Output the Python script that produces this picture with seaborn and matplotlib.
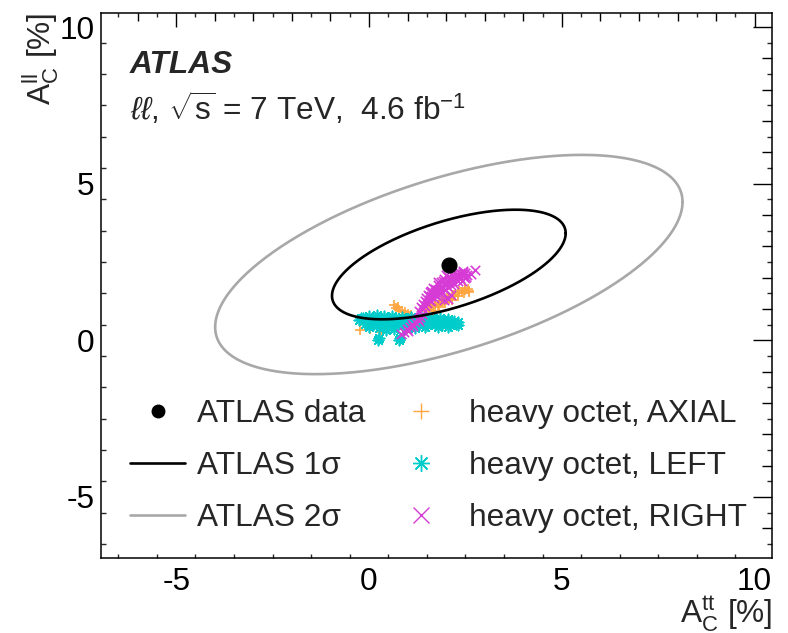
import numpy as np
import pandas as pd
import matplotlib
matplotlib.use("Agg")
import matplotlib.pyplot as plt
from matplotlib.lines import Line2D
from matplotlib.ticker import MultipleLocator
import seaborn as sns

# ---------------- data ----------------
# ATLAS measurement (central values, uncertainties in %, correlation)
data_x = [2.07]
data_y = [2.42]
sigma_x = 3.03
sigma_y = 1.75
rho = 0.57

# heavy octet, AXIAL
axial_x = [1.45, 1.55, 1.62, 1.70, 1.78, 1.85, 1.92, 2.00, 2.08, 2.16, 2.24, 2.32, 2.40, 2.48, 2.56,
           1.58, 1.72, 1.88, 2.02, 2.18, 2.34, 2.50, 2.60,
           1.65, 1.82, 1.98, 2.14, 2.30, 2.46, 2.58,
           0.66, 0.70, 0.74, 0.78, 0.86, 0.94, 1.02, 1.10,
           -0.24, 0.02, 0.32, 0.71, 0.05, 0.45, 1.30]
axial_y = [0.95, 0.98, 1.05, 1.08, 1.12, 1.18, 1.24, 1.30, 1.36, 1.40, 1.45, 1.50, 1.55, 1.60, 1.65,
           1.08, 1.17, 1.26, 1.36, 1.46, 1.56, 1.66, 1.58,
           0.95, 1.05, 1.20, 1.30, 1.40, 1.50, 1.55,
           1.12, 1.02, 1.05, 0.97, 0.93, 0.89, 0.85, 0.82,
           0.32, 0.37, 0.27, 0.42, 0.55, 0.55, 0.75]

# heavy octet, LEFT
left_x = [-0.20, 0.00, 0.20, 0.40, 0.60, 0.85, 1.10, 1.35, 1.60, 1.85, 2.05,
          -0.15, 0.10, 0.30, 0.50, 0.70, 0.95, 1.20, 1.45, 1.70, 1.95, 2.20,
          -0.25, -0.05, 0.15, 0.35, 0.55, 0.75, 0.95, 1.15, 1.35, 1.55, 1.75, 1.95, 2.15, 2.30,
          -0.05, 0.20, 0.40, 0.60, 0.80, 1.00, 1.25, 1.50, 1.75, 2.00, 2.25,
          -0.10, 0.10, 0.30, 0.50, 0.70, 0.90, 1.10, 1.30, 1.50, 1.70, 1.90, 2.10, 2.30,
          0.00, 0.25, 0.45, 0.65, 0.95, 1.20, 1.45, 1.80, 2.05,
          0.23, 0.26, 0.79, 0.80]
left_y = [0.72, 0.78, 0.80, 0.79, 0.77, 0.76, 0.74, 0.73, 0.72, 0.70, 0.68,
          0.70, 0.72, 0.71, 0.70, 0.69, 0.68, 0.68, 0.67, 0.66, 0.64, 0.63,
          0.65, 0.66, 0.64, 0.63, 0.62, 0.63, 0.62, 0.61, 0.62, 0.60, 0.61, 0.60, 0.58, 0.57,
          0.58, 0.57, 0.56, 0.55, 0.56, 0.56, 0.55, 0.55, 0.55, 0.54, 0.53,
          0.52, 0.50, 0.48, 0.47, 0.49, 0.50, 0.49, 0.48, 0.49, 0.50, 0.49, 0.48, 0.50,
          0.42, 0.38, 0.33, 0.36, 0.40, 0.40, 0.42, 0.44, 0.42,
          0.02, 0.07, 0.01, 0.06]

# heavy octet, RIGHT
right_x = [0.82, 0.90, 0.98, 1.05, 1.12, 1.20, 1.27, 1.33, 1.38, 1.00, 1.15, 1.30,
           1.30, 1.40, 1.45, 1.40, 1.50, 1.55, 1.48, 1.60, 1.65, 1.58, 1.72, 1.70, 1.80,
           1.78, 1.88, 1.86, 1.95, 1.95, 2.05, 2.05, 2.15, 2.15, 2.25, 2.25, 2.35, 2.35,
           2.45, 2.45, 2.55, 1.62, 1.75, 1.90, 2.05, 2.20, 2.40, 1.52, 1.65, 1.80, 2.00,
           1.35, 1.45, 1.55, 1.62, 1.70, 1.75, 1.85, 1.92, 2.00, 2.10, 2.20, 2.30, 2.40, 2.50,
           1.68, 1.85, 1.98, 2.12, 2.30, 2.50,
           2.51, 2.64, 2.43, 2.76, 2.13, 2.04, 1.95]
right_y = [0.20, 0.28, 0.36, 0.44, 0.52, 0.60, 0.68, 0.76, 0.85, 0.30, 0.45, 0.62,
           0.95, 1.00, 1.10, 1.15, 1.20, 1.30, 1.35, 1.40, 1.50, 1.55, 1.55, 1.65, 1.62,
           1.75, 1.70, 1.85, 1.80, 1.95, 1.85, 2.02, 1.90, 2.08, 1.95, 2.12, 2.00, 2.15,
           2.05, 2.20, 2.10, 1.25, 1.40, 1.55, 1.70, 1.80, 1.90, 1.45, 1.68, 1.85, 2.08,
           1.05, 1.25, 1.40, 1.58, 1.45, 1.60, 1.65, 1.90, 1.75, 1.98, 2.02, 2.08, 2.12, 2.15,
           1.35, 1.50, 1.62, 1.78, 1.88, 1.98,
           2.02, 2.13, 2.18, 2.23, 1.44, 1.33, 1.28]

legend_col1 = ["ATLAS data", "ATLAS 1\u03c3", "ATLAS 2\u03c3"]
legend_col2 = ["heavy octet, AXIAL", "heavy octet, LEFT", "heavy octet, RIGHT"]

# ---------------- style ----------------
sns.set_style("white")
plt.rcParams["font.family"] = ["Liberation Sans", "DejaVu Sans"]
plt.rcParams["mathtext.fontset"] = "custom"
plt.rcParams["mathtext.rm"] = "Liberation Sans"
plt.rcParams["mathtext.it"] = "Liberation Sans:italic"
plt.rcParams["mathtext.bf"] = "Liberation Sans:bold"
plt.rcParams["axes.unicode_minus"] = False

FS = 22.8
C_ORANGE = "#FFA640"
C_CYAN = "#00CCCC"
C_MAGENTA = "#D63BD6"
C_GREY = "#A8A8A8"
AST = (8, 2, 0)

W, H = 788, 633
fig = plt.figure(figsize=(W / 100, H / 100), dpi=100)
ax = fig.add_axes([101 / W, 1 - 558 / H, (772 - 101) / W, (558 - 13) / H])

# ellipses
t = np.linspace(0, 2 * np.pi, 500)
for k, col in [(2, C_GREY), (1, "black")]:
    ex = data_x[0] + k * sigma_x * np.cos(t)
    ey = data_y[0] + k * sigma_y * (rho * np.cos(t) + np.sqrt(1 - rho ** 2) * np.sin(t))
    sns.lineplot(x=ex, y=ey, sort=False, estimator=None, color=col, lw=1.9, ax=ax)

sns.scatterplot(x=axial_x, y=axial_y, marker="+", color=C_ORANGE, s=55, linewidth=1.2, ax=ax, legend=False)
sns.scatterplot(x=left_x, y=left_y, marker=AST, color=C_CYAN, s=55, linewidth=1.2, ax=ax, legend=False)
sns.scatterplot(x=right_x, y=right_y, marker="x", color=C_MAGENTA, s=45, linewidth=1.2, ax=ax, legend=False)
sns.scatterplot(x=data_x, y=data_y, marker="o", color="black", s=115, edgecolor="black", ax=ax,
                legend=False, zorder=5)

ax.set_xlim(-6.95, 10.45)
ax.set_ylim(-6.95, 10.45)
ax.set_xlabel("")
ax.set_ylabel("")

for sp in ax.spines.values():
    sp.set_linewidth(1.1)
    sp.set_color("black")

ax.xaxis.set_major_locator(MultipleLocator(5))
ax.xaxis.set_minor_locator(MultipleLocator(1))
ax.yaxis.set_major_locator(MultipleLocator(5))
ax.yaxis.set_minor_locator(MultipleLocator(1))
ax.tick_params(axis="both", which="both", direction="in", top=True, right=True, width=1.0, colors="black")
ax.tick_params(axis="x", which="major", length=10, pad=6.5, labelsize=FS)
ax.tick_params(axis="x", which="minor", length=5.5)
ax.tick_params(axis="y", which="major", length=13.5, pad=4.5, labelsize=FS)
ax.tick_params(axis="y", which="minor", length=7)

half = np.arange(-6.5, 10.5, 1.0)
for loc in ("bottom", "top"):
    sec = ax.secondary_xaxis(loc)
    sec.set_xticks(half)
    sec.tick_params(direction="in", length=3, width=1.0, labelbottom=False, labeltop=False)
    sec.spines[loc].set_visible(False)
for loc in ("left", "right"):
    sec = ax.secondary_yaxis(loc)
    sec.set_yticks(half)
    sec.tick_params(direction="in", length=3.6, width=1.0, labelleft=False, labelright=False)
    sec.spines[loc].set_visible(False)

# texts
fig.text(130 / W, 1 - 73 / H, "ATLAS", fontsize=FS, fontweight="bold", fontstyle="italic", va="baseline")
fig.text(130 / W, 1 - 120 / H, r"$\ell\ell$, $\sqrt{\mathrm{s}}$ = 7 TeV,  4.6 fb$^{\mathrm{-1}}$",
         fontsize=FS, va="baseline")
fig.text(772 / W, 1 - 624 / H, r"$\mathrm{A}_{\mathrm{C}}^{\mathrm{tt}}$ [%]", fontsize=FS,
         ha="right", va="baseline")
fig.text(41 / W, 1 - 13 / H, r"$\mathrm{A}_{\mathrm{C}}^{\mathrm{ll}}$ [%]", fontsize=FS,
         rotation=90, ha="center", va="top")

handles1 = [
    Line2D([], [], marker="o", color="black", ls="none", markersize=9),
    Line2D([], [], color="black", lw=1.9),
    Line2D([], [], color=C_GREY, lw=1.9),
]
handles2 = [
    Line2D([], [], marker="+", color=C_ORANGE, ls="none", markersize=12, mew=1.0),
    Line2D([], [], marker=AST, color=C_CYAN, ls="none", markersize=12, mew=1.0),
    Line2D([], [], marker="x", color=C_MAGENTA, ls="none", markersize=11, mew=1.0),
]
common = dict(loc="upper left", frameon=False, bbox_transform=fig.transFigure, fontsize=FS,
              handlelength=1.74, labelspacing=0.69, borderpad=0, borderaxespad=0)
leg1 = fig.legend(handles1, legend_col1, bbox_to_anchor=(130 / W, 1 - 399 / H),
                  handletextpad=0.38, **common)
leg2 = fig.legend(handles2, legend_col2, bbox_to_anchor=(393 / W, 1 - 399 / H),
                  handletextpad=0.65, **common)

fig.savefig("out.png", dpi=100)
